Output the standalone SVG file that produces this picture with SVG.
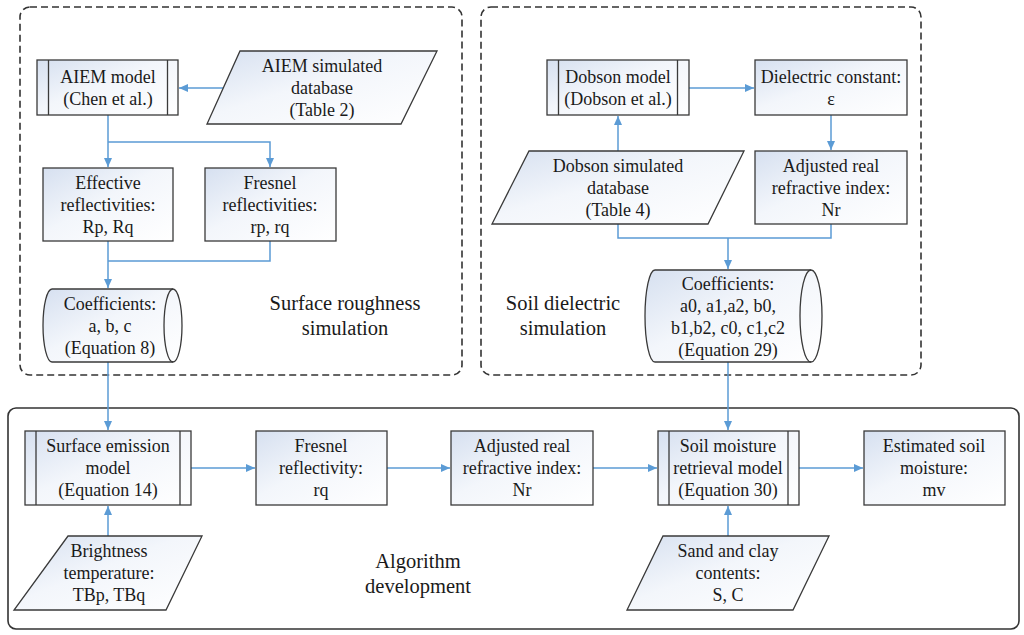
<svg xmlns="http://www.w3.org/2000/svg" width="1024" height="635" viewBox="0 0 1024 635">
<style>
.n{stroke:#3a3a3a;stroke-width:1.3;fill:url(#g)}
.i{stroke:#3a3a3a;stroke-width:1.3;fill:none}
.t{font-family:'Liberation Serif','Times New Roman',serif;font-size:18px;fill:#1a1a1a;text-anchor:middle}
.l{font-family:'Liberation Serif','Times New Roman',serif;font-size:20.5px;fill:#1a1a1a;text-anchor:middle}
.c{stroke:#5b9bd5;stroke-width:1.5;fill:none}
.a{marker-end:url(#ar)}
.dash{stroke:#333;stroke-width:1.6;fill:none;stroke-dasharray:7 4}
</style>
<defs>
<linearGradient id="g" x1="0" y1="0" x2="1" y2="1">
<stop offset="0" stop-color="#d6e0f0"/>
<stop offset="0.45" stop-color="#f3f6fb"/>
<stop offset="1" stop-color="#ffffff"/>
</linearGradient>
<marker id="ar" markerUnits="userSpaceOnUse" markerWidth="9" markerHeight="8" refX="9" refY="4" orient="auto">
<path d="M0,0 L9,4 L0,8 z" fill="#5b9bd5"/>
</marker>
</defs>
<rect width="1024" height="635" fill="#ffffff"/>

<g id="group-surface-roughness">
<rect class="dash" x="20" y="7" width="442" height="368" rx="10"/>
<text class="l" x="345" y="310">Surface roughness</text>
<text class="l" x="345" y="335">simulation</text>
</g>
<g id="group-soil-dielectric">
<rect class="dash" x="481" y="7" width="440" height="368" rx="10"/>
<text class="l" x="563" y="310">Soil dielectric</text>
<text class="l" x="563" y="335">simulation</text>
</g>
<g id="group-algorithm">
<rect x="8" y="408" width="1011" height="221" rx="8" fill="none" stroke="#333" stroke-width="1.6"/>
<text class="l" x="418" y="568">Algorithm</text>
<text class="l" x="418" y="593">development</text>
</g>

<g id="connectors">
<path class="c a" d="M223,88 H179"/>
<path class="c a" d="M108,115 V167"/>
<path class="c a" d="M108,142 H270 V167"/>
<path class="c a" d="M108,241 V288"/>
<path class="c" d="M270,241 V261 H108"/>
<path class="c a" d="M108,362 V430"/>
<path class="c a" d="M618,151 V116"/>
<path class="c a" d="M689,88 H754"/>
<path class="c a" d="M831,115 V150"/>
<path class="c" d="M618,224 V238 H831 V224"/>
<path class="c a" d="M728,238 V269"/>
<path class="c a" d="M728,362 V430"/>
<path class="c a" d="M191,468 H255"/>
<path class="c a" d="M387,468 H450"/>
<path class="c a" d="M593,468 H657"/>
<path class="c a" d="M799,468 H863"/>
<path class="c a" d="M108,536 V506"/>
<path class="c a" d="M728,536 V506"/>
</g>

<g id="aiem-model">
<rect class="n" x="37" y="60" width="141" height="55"/>
<path class="i" d="M48.5,60 V115 M167.5,60 V115"/>
<text class="t" x="108" y="82.5">AIEM model</text>
<text class="t" x="108" y="104.5">(Chen et al.)</text>
</g>
<g id="aiem-database">
<path class="n" d="M240,51 H437 L401,124 H207 Z"/>
<text class="t" x="322" y="71.5">AIEM simulated</text>
<text class="t" x="322" y="93.5">database</text>
<text class="t" x="322" y="115.5">(Table 2)</text>
</g>
<g id="effective-reflectivities">
<rect class="n" x="43" y="168" width="130" height="73"/>
<text class="t" x="108" y="188.5">Effective</text>
<text class="t" x="108" y="210.5">reflectivities:</text>
<text class="t" x="108" y="232.5">Rp, Rq</text>
</g>
<g id="fresnel-reflectivities">
<rect class="n" x="205" y="168" width="131" height="73"/>
<text class="t" x="270" y="188.5">Fresnel</text>
<text class="t" x="270" y="210.5">reflectivities:</text>
<text class="t" x="270" y="232.5">rp, rq</text>
</g>
<g id="coefficients-abc">
<path class="n" d="M52,289 H173 A9,36.5 0 0 1 173,362 H52 A9,36.5 0 0 1 52,289 Z"/>
<path class="i" d="M173,289 A9,36.5 0 0 0 173,362"/>
<text class="t" x="110" y="309.5">Coefficients:</text>
<text class="t" x="110" y="331.5">a, b, c</text>
<text class="t" x="110" y="353.5">(Equation 8)</text>
</g>

<g id="dobson-model">
<rect class="n" x="547" y="60" width="142" height="55"/>
<path class="i" d="M558.5,60 V115 M677.5,60 V115"/>
<text class="t" x="618" y="82.5">Dobson model</text>
<text class="t" x="618" y="104.5">(Dobson et al.)</text>
</g>
<g id="dielectric-constant">
<rect class="n" x="755" y="60" width="152" height="55"/>
<text class="t" x="831" y="82.5">Dielectric constant:</text>
<text class="t" x="831" y="104.5">ε</text>
</g>
<g id="dobson-database">
<path class="n" d="M529,151 H744 L708,224 H492 Z"/>
<text class="t" x="618" y="171.5">Dobson simulated</text>
<text class="t" x="618" y="193.5">database</text>
<text class="t" x="618" y="215.5">(Table 4)</text>
</g>
<g id="adjusted-refractive-top">
<rect class="n" x="755" y="151" width="152" height="73"/>
<text class="t" x="831" y="171.5">Adjusted real</text>
<text class="t" x="831" y="193.5">refractive index:</text>
<text class="t" x="831" y="215.5">Nr</text>
</g>
<g id="coefficients-29">
<path class="n" d="M655,270 H811 A11,46 0 0 1 811,362 H655 A10,46 0 0 1 655,270 Z"/>
<path class="i" d="M811,270 A11,46 0 0 0 811,362"/>
<text class="t" x="728" y="289.5">Coefficients:</text>
<text class="t" x="728" y="311.5">a0, a1,a2, b0,</text>
<text class="t" x="728" y="333.5">b1,b2, c0, c1,c2</text>
<text class="t" x="728" y="355.5">(Equation 29)</text>
</g>

<g id="surface-emission-model">
<rect class="n" x="25" y="431" width="166" height="74"/>
<path class="i" d="M36,431 V505 M180,431 V505"/>
<text class="t" x="108" y="452">Surface emission</text>
<text class="t" x="108" y="474">model</text>
<text class="t" x="108" y="496">(Equation 14)</text>
</g>
<g id="fresnel-reflectivity">
<rect class="n" x="256" y="431" width="131" height="74"/>
<text class="t" x="321" y="452">Fresnel</text>
<text class="t" x="321" y="474">reflectivity:</text>
<text class="t" x="321" y="496">rq</text>
</g>
<g id="adjusted-refractive-bottom">
<rect class="n" x="451" y="431" width="142" height="74"/>
<text class="t" x="522" y="452">Adjusted real</text>
<text class="t" x="522" y="474">refractive index:</text>
<text class="t" x="522" y="496">Nr</text>
</g>
<g id="soil-moisture-model">
<rect class="n" x="658" y="431" width="141" height="74"/>
<path class="i" d="M669,431 V505 M788,431 V505"/>
<text class="t" x="728" y="452">Soil moisture</text>
<text class="t" x="728" y="474">retrieval model</text>
<text class="t" x="728" y="496">(Equation 30)</text>
</g>
<g id="estimated-soil-moisture">
<rect class="n" x="864" y="431" width="141" height="74"/>
<text class="t" x="934" y="452">Estimated soil</text>
<text class="t" x="934" y="474">moisture:</text>
<text class="t" x="934" y="496">mv</text>
</g>
<g id="brightness-temperature">
<path class="n" d="M68,536 H202 L166,610 H14 Z"/>
<text class="t" x="109" y="557">Brightness</text>
<text class="t" x="109" y="579">temperature:</text>
<text class="t" x="109" y="601">TBp, TBq</text>
</g>
<g id="sand-clay">
<path class="n" d="M663,536 H829 L793,610 H627 Z"/>
<text class="t" x="728" y="557">Sand and clay</text>
<text class="t" x="728" y="579">contents:</text>
<text class="t" x="728" y="601">S, C</text>
</g>
</svg>
